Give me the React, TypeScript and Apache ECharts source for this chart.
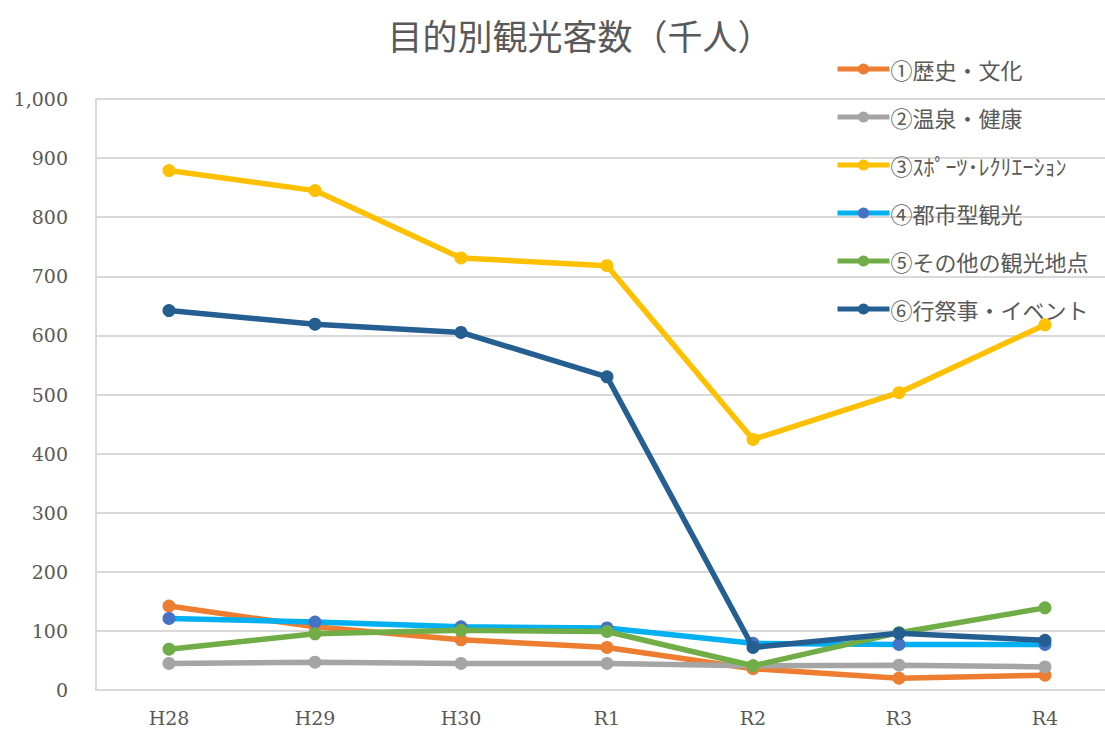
import React, { useEffect, useRef } from "react";
import * as echarts from "echarts";

const categories = ["H28", "H29", "H30", "R1", "R2", "R3", "R4"];
const seriesNames = [
  "①歴史・文化",
  "②温泉・健康",
  "③ｽﾎﾟｰﾂ･ﾚｸﾘｴｰｼｮﾝ",
  "④都市型観光",
  "⑤その他の観光地点",
  "⑥行祭事・イベント",
];
const history = [142, 107, 85, 72, 36, 20, 25];
const onsen = [45, 47, 45, 45, 41, 42, 39];
const sports = [879, 845, 731, 718, 424, 503, 618];
const urban = [121, 115, 107, 105, 79, 77, 77];
const other = [69, 95, 101, 99, 41, 97, 139];
const events = [642, 619, 605, 530, 72, 96, 84];
const yTicks = [0, 100, 200, 300, 400, 500, 600, 700, 800, 900, 1000];

const lineColors = ["#ED7D31", "#A5A5A5", "#FFC000", "#00B0F0", "#70AD47", "#255E91"];
const markerColors = ["#ED7D31", "#A5A5A5", "#FFC000", "#4472C4", "#70AD47", "#255E91"];

export default function App() {
  const ref = useRef<HTMLDivElement>(null);
  useEffect(() => {
    if (!ref.current) return;
    const chart = echarts.init(ref.current, undefined, { renderer: "svg" });
    const data = [history, onsen, sports, urban, other, events];
    const font = "'DejaVu Serif', 'Liberation Serif', serif";
    chart.setOption({
      animation: false,
      backgroundColor: "#ffffff",
      title: {
        text: "目的別観光客数（千人）",
        left: 575,
        textAlign: "center",
        top: 12,
        textStyle: {
          fontSize: 35,
          fontWeight: "normal",
          color: "#595959",
          fontFamily: "'Noto Sans CJK JP', sans-serif",
        },
      },
      legend: {
        orient: "vertical",
        left: 835,
        top: 58,
        padding: 0,
        itemGap: 26,
        itemWidth: 52,
        itemHeight: 14,
        data: seriesNames.map((n, i) => ({
          name: n,
          itemStyle: { color: markerColors[i] },
          lineStyle: { color: lineColors[i], width: 5 },
        })),
        textStyle: {
          fontSize: 22,
          color: "#595959",
          fontFamily: "'Noto Sans CJK JP', serif",
          padding: [0, 0, 0, -4],
        },
      },
      grid: {
        left: 96,
        top: 99,
        width: 1022,
        height: 591,
        containLabel: false,
        outerBoundsMode: "none",
      },
      xAxis: {
        type: "category",
        data: categories,
        boundaryGap: true,
        axisLine: { show: false },
        axisTick: { show: false },
        axisLabel: {
          fontSize: 19,
          color: "#595959",
          fontFamily: font,
          margin: 18,
        },
      },
      yAxis: {
        type: "value",
        min: yTicks[0],
        max: yTicks[yTicks.length - 1],
        interval: 100,
        axisLine: { show: true, lineStyle: { color: "#D9D9D9", width: 2 } },
        axisTick: { show: false },
        splitLine: { lineStyle: { color: "#D9D9D9", width: 2 } },
        axisLabel: {
          fontSize: 19,
          color: "#595959",
          fontFamily: font,
          margin: 28,
          formatter: (v: number) => v.toLocaleString("en-US"),
        },
      },
      series: seriesNames.map((n, i) => ({
        name: n,
        type: "line",
        data: data[i],
        symbol: "circle",
        symbolSize: 13,
        lineStyle: { color: lineColors[i], width: 5.5 },
        itemStyle: { color: markerColors[i] },
        z: 2 + i,
      })),
    });
    return () => chart.dispose();
  }, []);
  return (
    <div
      ref={ref}
      style={{ position: "fixed", left: 0, top: 0, width: 1105, height: 731 }}
    />
  );
}
